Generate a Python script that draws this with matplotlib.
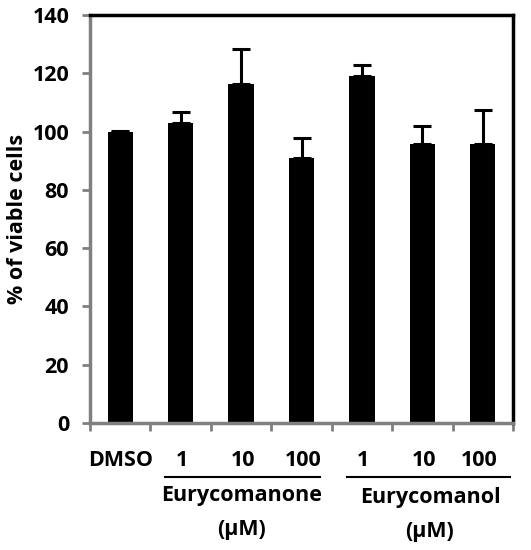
import matplotlib
matplotlib.use("Agg")
import matplotlib.pyplot as plt
import numpy as np

categories = ["DMSO", "1", "10", "100", "1", "10", "100"]
values = [100.0, 102.8, 116.4, 91.0, 119.1, 95.6, 95.6]
errors = [0.3, 3.8, 11.9, 6.7, 3.9, 6.3, 11.9]
yticks = [0, 20, 40, 60, 80, 100, 120, 140]
group_names = ["Eurycomanone", "Eurycomanol"]
group_unit = "(\u00b5M)"

plt.rcParams['font.family'] = ['Open Sans', 'DejaVu Sans']
plt.rcParams['font.weight'] = 'bold'
FS = 15.5

fig = plt.figure(figsize=(5.31, 5.5), dpi=100)
W, H = 531, 550
ax = fig.add_axes([90 / W, 1 - 423 / H, (513 - 90) / W, (423 - 15) / H])

x = np.arange(len(categories))
ax.bar(x, values, width=0.42, color="black", zorder=2)
ax.errorbar(x, values, yerr=[np.zeros(len(errors)), errors], fmt="none",
            ecolor="black", elinewidth=2.2, capsize=6.5, capthick=2.2, zorder=3)

ax.set_xlim(-0.5, len(categories) - 0.5)
ax.set_ylim(0, 140)
ax.set_yticks(yticks)
ax.set_yticklabels([str(t) for t in yticks], fontsize=FS, fontweight="bold")

ax.set_xticks(np.arange(len(categories) + 1) - 0.5)
ax.set_xticklabels([])
ax.tick_params(axis="both", direction="out", length=6, width=2, color="#808080")
ax.tick_params(axis="y", pad=9)

for s in ["left", "bottom"]:
    ax.spines[s].set_color("#808080")
    ax.spines[s].set_linewidth(2.5)
for s in ["top", "right"]:
    ax.spines[s].set_color("black")
    ax.spines[s].set_linewidth(2.5)

ax.set_ylabel("% of viable cells", fontsize=FS, fontweight="bold", labelpad=3)

trans = ax.get_xaxis_transform()

def px2ax_y(py):
    return (423 - py) / (423 - 15)

def px2data_x(px):
    return (px - 90) / (513 - 90) * len(categories) - 0.5

label_px = [121, 182, 243, 303, 363, 424, 479]
for px, lab in zip(label_px, categories):
    ax.text(px2data_x(px), px2ax_y(460), lab, transform=trans, ha="center",
            va="center", fontsize=FS, fontweight="bold", clip_on=False)

for (x0, x1, cx, ny, uy), name in zip([(165, 320, 242, 495, 529),
                                       (347, 510, 430, 497, 531)], group_names):
    ax.plot([px2data_x(x0), px2data_x(x1)], [px2ax_y(477)] * 2, transform=trans,
            color="black", lw=1.5, clip_on=False)
    ax.text(px2data_x(cx), px2ax_y(ny), name, transform=trans, ha="center",
            va="center", fontsize=FS, fontweight="bold", clip_on=False)
    ax.text(px2data_x(cx), px2ax_y(uy), group_unit, transform=trans, ha="center",
            va="center", fontsize=FS, fontweight="bold", clip_on=False)

fig.savefig("out.png", dpi=100)
